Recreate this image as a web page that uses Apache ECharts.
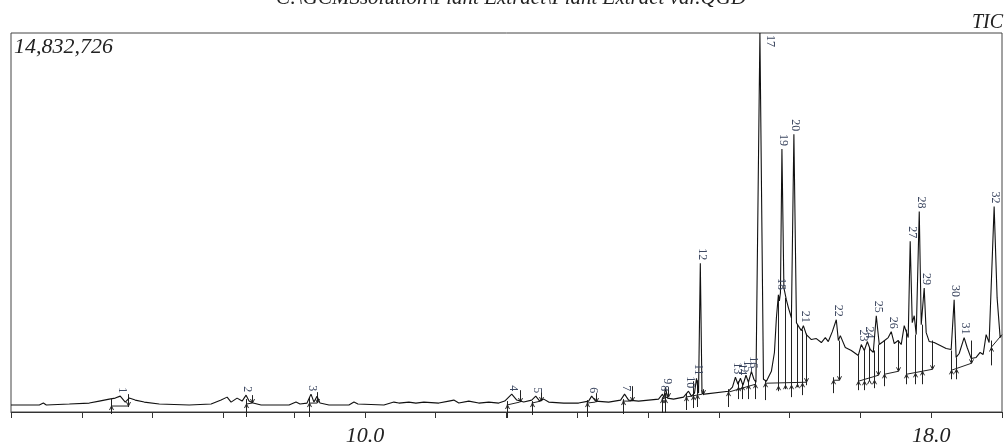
<!DOCTYPE html>
<html>
<head>
<meta charset="utf-8">
<script src="https://cdn.jsdelivr.net/npm/echarts@6/dist/echarts.min.js"></script>
<style>
  html, body { margin: 0; padding: 0; background: #fff; }
  #chart { width: 1005px; height: 447px; }
</style>
</head>
<body>
<div id="chart"></div>
<script>
// TIC trace: [retention time (min), intensity (millions)]
const tic = [
    [5.000, .272], [5.259, .272], [5.400, .272], [5.457, .349], [5.499, .272], [5.824, .311],
    [6.106, .349], [6.247, .427], [6.388, .505], [6.473, .544], [6.543, .621], [6.614, .388],
    [6.670, .544], [6.755, .466], [6.882, .388], [7.094, .311], [7.517, .272], [7.827, .311],
    [7.968, .466], [8.053, .582], [8.109, .388], [8.194, .544], [8.265, .427], [8.321, .660],
    [8.363, .427], [8.420, .349], [8.533, .272], [8.928, .272], [9.026, .388], [9.083, .311],
    [9.182, .349], [9.238, .699], [9.280, .388], [9.323, .621], [9.365, .349], [9.492, .272],
    [9.774, .272], [9.845, .388], [9.901, .311], [10.268, .272], [10.409, .388], [10.480, .349],
    [10.621, .388], [10.720, .349], [10.832, .388], [11.044, .349], [11.185, .427], [11.256, .466],
    [11.326, .349], [11.467, .427], [11.608, .349], [11.750, .388], [11.891, .349], [11.975, .427],
    [12.074, .699], [12.145, .466], [12.243, .388], [12.356, .466], [12.413, .621], [12.469, .427],
    [12.526, .505], [12.596, .388], [12.808, .349], [13.019, .349], [13.160, .427], [13.203, .621],
    [13.259, .427], [13.443, .388], [13.612, .466], [13.668, .699], [13.725, .466], [13.866, .427],
    [14.007, .466], [14.148, .505], [14.204, .699], [14.225, .544], [14.246, .971], [14.275, .544],
    [14.360, .505], [14.501, .582], [14.571, .815], [14.613, .621], [14.656, .738], [14.684, 1.320],
    [14.713, .738], [14.738, 5.825], [14.762, .738], [14.797, .699], [15.136, .815], [15.192, .971],
    [15.234, 1.359], [15.270, 1.087], [15.305, 1.320], [15.340, 1.048], [15.383, 1.437], [15.418, 1.165],
    [15.460, 1.592], [15.495, 1.281], [15.524, 1.165], [15.580, 14.833], [15.630, 1.281], [15.672, 1.204],
    [15.742, 1.592], [15.785, 2.330], [15.813, 3.689], [15.841, 4.582], [15.855, 4.349], [15.870, 4.660],
    [15.891, 10.290], [15.919, 4.854], [15.954, 4.388], [15.983, 4.077], [16.025, 3.689], [16.060, 10.872],
    [16.096, 3.495], [16.138, 3.301], [16.166, 3.184], [16.194, 3.378], [16.236, 3.029], [16.307, 2.835],
    [16.377, 2.874], [16.448, 2.718], [16.504, 2.912], [16.546, 2.757], [16.603, 3.145], [16.659, 3.611],
    [16.688, 2.796], [16.716, 2.990], [16.786, 2.524], [16.871, 2.407], [16.970, 2.213], [17.012, 2.640],
    [17.055, 2.407], [17.097, 2.757], [17.139, 2.446], [17.181, 2.330], [17.224, 3.767], [17.266, 2.640],
    [17.323, 2.757], [17.393, 2.912], [17.435, 3.145], [17.478, 2.679], [17.534, 2.796], [17.576, 2.640],
    [17.619, 3.378], [17.647, 3.145], [17.675, 2.912], [17.703, 6.679], [17.732, 3.495], [17.760, 3.767],
    [17.788, 3.029], [17.831, 7.844], [17.859, 3.417], [17.901, 4.854], [17.929, 3.106], [17.972, 2.757],
    [18.042, 2.718], [18.127, 2.602], [18.211, 2.485], [18.282, 2.446], [18.324, 4.388], [18.352, 2.136],
    [18.395, 2.291], [18.465, 2.912], [18.508, 2.524], [18.564, 2.097], [18.635, 2.136], [18.691, 2.330],
    [18.734, 2.252], [18.776, 3.029], [18.818, 2.718], [18.889, 8.038], [18.931, 4.465], [18.974, 2.912],
    [18.990, 2.990]
];

// peak table: number, apex time, apex intensity
const peakNo = [1, 2, 3, 4, 5, 6, 7, 8, 9, 10, 11, 12, 13, 14, 15, 16,
    17, 18, 19, 20, 21, 22, 23, 24, 25, 26, 27, 28, 29, 30, 31, 32];
const peakRt = [6.543, 8.321, 9.238, 12.074, 12.413, 13.203, 13.668, 14.204, 14.246, 14.571, 14.684,
    14.738, 15.234, 15.305, 15.383, 15.460, 15.580, 15.855, 15.891, 16.060, 16.194, 16.659, 17.012,
    17.097, 17.224, 17.435, 17.703, 17.831, 17.901, 18.324, 18.465, 18.889];
const peakTop = [.621, .660, .699, .699, .621, .621, .699, .699, .971, .815, 1.320, 5.825, 1.359,
    1.320, 1.437, 1.592, 14.833, 4.660, 10.290, 10.872, 3.378, 3.611, 2.640, 2.757, 3.767, 3.145,
    6.679, 7.844, 4.854, 4.388, 2.912, 8.038];

// integration marks: time, line top, line bottom, arrow tip, direction (1 up / -1 down)
const marks = [
    [6.416, .505, -.078, .233, 1], [6.656, .699, .194, .233, -1],
    [8.321, .505, -.194, .311, 1], [8.406, .660, .349, .349, -1],
    [9.210, .582, -.194, .349, 1], [9.323, .777, .349, .349, -1],
    [12.003, .427, -.233, .272, 1], [12.187, .854, .388, .388, -1],
    [12.356, .427, -.116, .349, 1], [12.483, .777, .427, .427, -1],
    [13.132, .466, -.194, .349, 1], [13.259, .738, .388, .388, -1],
    [13.640, .505, -.078, .427, 1], [13.767, 1.010, .427, .427, -1],
    [14.190, .582, -.039, .505, 1], [14.233, .738, -.039, .505, 1], [14.275, .971, .582, .582, -1],
    [14.529, .738, .078, .582, 1], [14.628, 1.204, .155, .621, 1], [14.698, 1.243, .194, .660, 1],
    [14.769, .893, .660, .699, -1],
    [15.136, .893, .194, .777, 1], [15.277, 1.204, .505, .971, 1], [15.333, 1.126, .505, 1.010, 1],
    [15.418, 1.204, .505, 1.048, 1], [15.517, 1.243, .505, 1.087, 1], [15.658, 1.243, .466, 1.126, 1],
    [15.841, 4.582, .815, 1.010, 1], [15.940, 4.465, .893, 1.048, 1], [16.025, 3.767, .582, 1.048, 1],
    [16.109, 3.417, .971, 1.087, 1], [16.180, 3.223, .660, 1.126, 1], [16.236, 3.068, 1.048, 1.165, -1],
    [16.617, 1.359, .738, 1.243, 1], [16.702, 2.796, 1.243, 1.243, -1],
    [16.970, 2.213, .854, 1.204, 1], [17.055, 2.446, .854, 1.204, 1], [17.125, 2.524, 1.204, 1.243, 1],
    [17.196, 2.407, .932, 1.243, 1], [17.252, 2.640, 1.437, 1.437, -1],
    [17.337, 2.796, 1.010, 1.476, 1], [17.534, 2.796, 1.592, 1.592, -1],
    [17.647, 3.223, 1.087, 1.476, 1], [17.774, 3.029, 1.087, 1.514, 1], [17.873, 3.417, 1.087, 1.592, 1],
    [18.014, 2.796, 1.670, 1.670, -1],
    [18.282, 2.407, 1.281, 1.631, 1], [18.353, 2.136, 1.281, 1.670, 1], [18.564, 2.796, 1.903, 1.903, -1],
    [18.846, 2.796, 1.825, 2.524, 1]
];

// baselines drawn under integrated peaks: t1, i1, t2, i2
const baseSegs = [
    [6.416, .233, 6.656, .233], [8.321, .311, 8.406, .349], [9.210, .349, 9.323, .349],
    [12.003, .272, 12.187, .388], [12.356, .349, 12.483, .427], [13.132, .349, 13.259, .388],
    [13.640, .427, 13.767, .427], [14.190, .505, 14.275, .582], [14.529, .582, 14.769, .699],
    [15.136, .777, 15.517, 1.087], [15.658, 1.126, 16.236, 1.165], [16.617, 1.243, 16.702, 1.243],
    [16.970, 1.204, 17.252, 1.437], [17.337, 1.476, 17.534, 1.592], [17.647, 1.476, 18.014, 1.670],
    [18.282, 1.631, 18.564, 1.903], [18.846, 2.524, 19.0, 3.029]
];

const xTicksShown = [10, 18];
const maxIntensity = 14.832726;

const serif = '"Liberation Serif", "DejaVu Serif", serif';
const gridTop = 33;

const chart = echarts.init(document.getElementById('chart'));

chart.setOption({
    animation: false,
    grid: {
        left: 11, right: 2, top: gridTop, bottom: 32,
        show: true, borderColor: '#444', borderWidth: 1
    },
    graphic: [
        {
            type: 'text',
            style: {
                text: 'C:\\GCMSsolution\\Plant Extract\\Plant Extract var.QGD',
                x: 511, y: 9, align: 'center', verticalAlign: 'bottom',
                font: 'italic 21px ' + serif, fill: '#222'
            }
        },
        {
            type: 'text',
            style: {
                text: 'TIC', x: 1003, y: 33, align: 'right', verticalAlign: 'bottom',
                font: 'italic 20px ' + serif, fill: '#222'
            }
        },
        {
            type: 'text',
            style: {
                text: '14,832,726', x: 14, y: 36, align: 'left', verticalAlign: 'top',
                font: 'italic 22px ' + serif, fill: '#222'
            }
        }
    ],
    xAxis: {
        type: 'value',
        min: 5, max: 19, interval: 1,
        axisLine: { show: true, lineStyle: { color: '#333', width: 1 } },
        axisTick: { show: true, length: 6, lineStyle: { color: '#333' } },
        splitLine: { show: false },
        axisLabel: {
            margin: 13,
            fontFamily: serif, fontStyle: 'italic', fontSize: 22, color: '#222',
            formatter: v => xTicksShown.indexOf(v) >= 0 ? v.toFixed(1) : ''
        }
    },
    yAxis: {
        type: 'value', min: 0, max: maxIntensity,
        show: false
    },
    series: [
        {
            type: 'line',
            data: tic,
            showSymbol: false,
            symbol: 'none',
            sampling: null,
            lineStyle: { color: '#111', width: 1.1 },
            z: 3
        },
        {
            type: 'custom',
            data: baseSegs,
            renderItem: (params, api) => {
                const a = api.coord([api.value(0), api.value(1)]);
                const b = api.coord([api.value(2), api.value(3)]);
                return {
                    type: 'line',
                    shape: { x1: a[0], y1: a[1], x2: b[0], y2: b[1] },
                    style: { stroke: '#222', lineWidth: 1 }
                };
            },
            z: 2
        },
        {
            type: 'custom',
            data: marks,
            renderItem: (params, api) => {
                const top = api.coord([api.value(0), api.value(1)]);
                const bot = api.coord([api.value(0), api.value(2)]);
                const tip = api.coord([api.value(0), api.value(3)]);
                const d = api.value(4) > 0 ? 4 : -4;
                const x = Math.round(top[0]) + 0.5;
                return {
                    type: 'group',
                    children: [
                        {
                            type: 'line',
                            shape: { x1: x, y1: top[1], x2: x, y2: bot[1] },
                            style: { stroke: '#222', lineWidth: 1 }
                        },
                        {
                            type: 'polyline',
                            shape: { points: [[x - 2, tip[1] + d], [x, tip[1]], [x + 2, tip[1] + d]] },
                            style: { stroke: '#222', lineWidth: 1, fill: null }
                        }
                    ]
                };
            },
            z: 2
        },
        {
            type: 'custom',
            data: peakNo.map((n, i) => [n, peakRt[i], peakTop[i]]),
            renderItem: (params, api) => {
                const p = api.coord([api.value(1), api.value(2)]);
                let x = p[0] + 1.5;
                let y = p[1] - 3;
                if (y - 12 < gridTop) {
                    x = p[0] + 10;
                    y = gridTop + 14;
                }
                return {
                    type: 'text',
                    x: x, y: y,
                    rotation: -Math.PI / 2,
                    style: {
                        text: String(api.value(0)),
                        x: 0, y: 0,
                        align: 'right', verticalAlign: 'middle',
                        font: '12px ' + serif,
                        fill: '#3c4760'
                    }
                };
            },
            z: 4
        }
    ]
});
</script>
</body>
</html>
